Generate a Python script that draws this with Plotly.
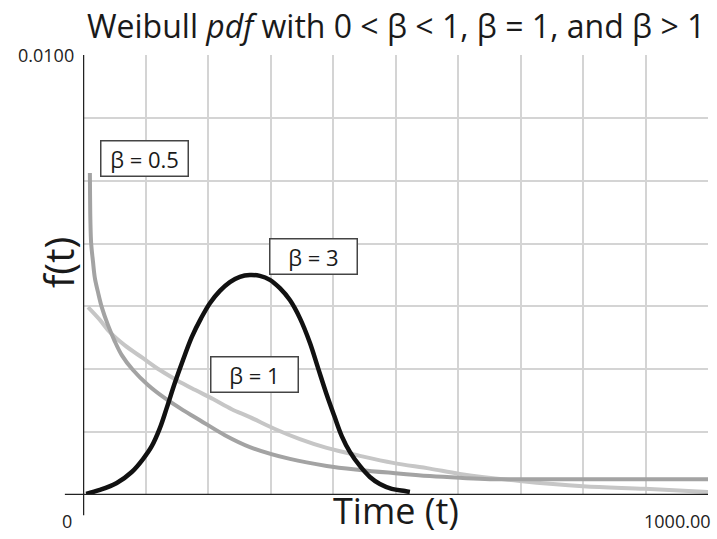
import plotly.graph_objects as go

# values (time, f(t))
t_b05 = [11, 11.3, 11.8, 13, 16, 19, 24, 30, 40, 50, 62, 80, 104, 131, 160, 187, 227, 267,
         331, 390, 443, 496, 555, 603, 651, 800, 1000]
f_b05 = [0.00732, 0.00682, 0.00625, 0.00573, 0.0053, 0.00493, 0.00461, 0.00427, 0.00386,
         0.00352, 0.00318, 0.00284, 0.0025, 0.0022, 0.00193, 0.0017, 0.00136, 0.00109,
         0.00082, 0.00066, 0.00057, 0.0005, 0.00043, 0.00039, 0.00036, 0.00036, 0.00036]

t_b1 = [8, 27, 43, 67, 96, 123, 150, 179, 208, 238, 267, 307, 347, 390, 443, 496, 555,
        603, 699, 800, 899, 1000]
f_b1 = [0.00427, 0.00398, 0.0037, 0.0034, 0.00311, 0.00284, 0.00261, 0.00239, 0.00218,
        0.00195, 0.00177, 0.0015, 0.00127, 0.00107, 0.00089, 0.00073, 0.0006, 0.00048,
        0.00032, 0.0002, 0.00014, 0.00007]

t_b3 = [5, 27, 54, 78, 96, 110, 123, 134, 147, 160, 174, 189, 203, 219, 235, 251, 267,
        283, 299, 315, 331, 347, 363, 376, 389, 402, 414, 427, 443, 459, 475, 494, 515, 523]
f_b3 = [0.000023, 0.000114, 0.000273, 0.000523, 0.000818, 0.00111, 0.00152, 0.00198,
        0.00255, 0.00307, 0.00359, 0.00402, 0.00436, 0.00464, 0.00484, 0.00496, 0.0050,
        0.00498, 0.00489, 0.0047, 0.00443, 0.00402, 0.00346, 0.00289, 0.00232, 0.0018,
        0.00134, 0.00098, 0.00066, 0.00041, 0.00025, 0.00014, 0.00009, 0.00007]

labels = ["β = 0.5", "β = 3", "β = 1"]
label_t = [98, 368, 275]
label_f = [0.00764, 0.00543, 0.00275]

y_grid = [i * 0.01 / 7 for i in range(8)]
FONT = "Open Sans"
INK = "#1a1a1a"

fig = go.Figure()
fig.add_trace(go.Scatter(x=t_b1, y=f_b1, mode="lines", line=dict(color="#c6c6c6", width=4, shape="spline")))
fig.add_trace(go.Scatter(x=t_b05, y=f_b05, mode="lines", line=dict(color="#a3a3a3", width=4, shape="spline")))
fig.add_trace(go.Scatter(x=t_b3, y=f_b3, mode="lines", line=dict(color="#111111", width=4.5, shape="spline")))

for txt, tx, fy in zip(labels, label_t, label_f):
    fig.add_annotation(text=txt, x=tx, y=fy, showarrow=False, font=dict(family=FONT, size=22, color=INK),
                       bgcolor="white", bordercolor="#444", borderwidth=1.5, width=84, height=32)

# axis lines crossing past each other
fig.add_shape(type="line", xref="x", yref="paper", x0=0, x1=0, y0=-0.046, y1=1,
              line=dict(color="#222", width=2.5))
fig.add_shape(type="line", xref="paper", yref="y", x0=-0.029, x1=1, y0=0, y1=0,
              line=dict(color="#222", width=2.5))

fig.add_annotation(text="Weibull <i>pdf</i> with 0 < β < 1, β = 1, and β > 1", xref="paper", yref="paper",
                   x=0.5, y=1, yshift=30, xanchor="center", yanchor="middle", showarrow=False,
                   font=dict(family=FONT, size=32, color=INK))
fig.add_annotation(text="Time (t)", xref="paper", yref="paper", x=0.5, y=0, yshift=-15,
                   xanchor="center", yanchor="middle", showarrow=False,
                   font=dict(family=FONT, size=36, color=INK))
fig.add_annotation(text="f(t)", xref="paper", yref="paper", x=0, xshift=-25, y=0.527, textangle=-90,
                   xanchor="center", yanchor="middle", showarrow=False,
                   font=dict(family=FONT, size=40, color=INK))
fig.add_annotation(text="0.0100", xref="paper", yref="paper", x=0, xshift=-7, y=1, xanchor="right",
                   yanchor="middle", showarrow=False, font=dict(family=FONT, size=18, color="#222"))
fig.add_annotation(text="0", xref="paper", yref="paper", x=0, xshift=-16, y=0, yshift=-26,
                   xanchor="center", yanchor="middle", showarrow=False,
                   font=dict(family=FONT, size=18, color="#222"))
fig.add_annotation(text="1000.00", xref="paper", yref="paper", x=1, xshift=4, y=0, yshift=-26,
                   xanchor="right", yanchor="middle", showarrow=False,
                   font=dict(family=FONT, size=18, color="#222"))

fig.update_layout(
    width=717, height=539, showlegend=False,
    margin=dict(l=83, r=9, t=55, b=44),
    paper_bgcolor="white", plot_bgcolor="white",
    xaxis=dict(range=[0, 1000], dtick=100, showgrid=True, gridcolor="#d4d4d4", gridwidth=1.5,
               showticklabels=False, zeroline=False, showline=False),
    yaxis=dict(range=[0, 0.01], tickvals=y_grid, showgrid=True, gridcolor="#d4d4d4", gridwidth=1.5,
               showticklabels=False, zeroline=False, showline=False),
)

# drop the default body margin so the figure fills the window
fig.write_html("out.html", config={"displayModeBar": False},
               post_script="document.body.style.margin='0';document.body.style.overflow='hidden';")
